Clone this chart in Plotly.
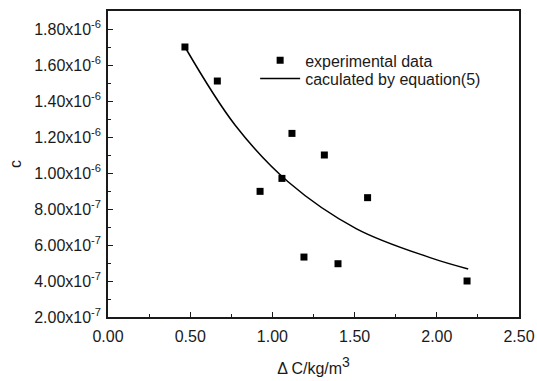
import plotly.graph_objects as go

# experimental data
exp_x = [0.468, 0.665, 0.925, 1.058, 1.119, 1.192, 1.316, 1.399, 1.579, 2.184]
exp_y = [1.70e-6, 1.511e-6, 0.898e-6, 0.97e-6, 1.22e-6, 0.533e-6, 1.10e-6, 0.496e-6, 0.863e-6, 0.40e-6]

# curve
fit_x = [0.468, 0.7725, 1.097, 1.512, 1.959, 2.191]
fit_y = [1.70e-6, 1.267e-6, 0.950e-6, 0.690e-6, 0.530e-6, 0.467e-6]

y_tickvals = [2e-7, 4e-7, 6e-7, 8e-7, 1.0e-6, 1.2e-6, 1.4e-6, 1.6e-6, 1.8e-6]
y_ticktext = ["2.00x10<sup>-7</sup>", "4.00x10<sup>-7</sup>", "6.00x10<sup>-7</sup>", "8.00x10<sup>-7</sup>",
              "1.00x10<sup>-6</sup>", "1.20x10<sup>-6</sup>", "1.40x10<sup>-6</sup>", "1.60x10<sup>-6</sup>",
              "1.80x10<sup>-6</sup>"]
x_tickvals = [0.0, 0.5, 1.0, 1.5, 2.0, 2.5]
x_ticktext = ["0.00", "0.50", "1.00", "1.50", "2.00", "2.50"]

font = "Liberation Sans, Arial, sans-serif"
ink = "#1a1a1a"

fig = go.Figure()
fig.add_trace(go.Scatter(x=exp_x, y=exp_y, mode="markers", name="experimental data",
                         marker=dict(symbol="square", size=7, color="black"),
                         legend="legend", showlegend=True))
fig.add_trace(go.Scatter(x=fit_x, y=fit_y, mode="lines", name="caculated by equation(5)",
                         line=dict(color="black", width=1.5, shape="spline", smoothing=1.0),
                         legend="legend2", showlegend=True))

axis_common = dict(showline=True, linecolor=ink, linewidth=1.5, mirror=True,
                   ticks="inside", ticklen=5, tickcolor=ink, tickwidth=1,
                   showgrid=False, zeroline=False, automargin=False,
                   tickfont=dict(family=font, size=16, color=ink))

fig.update_xaxes(range=[0, 2.5], tickvals=x_tickvals, ticktext=x_ticktext,
                 minor=dict(ticks="inside", ticklen=3, dtick=0.25, tick0=0, tickcolor=ink),
                 ticklabelstandoff=4,
                 title=dict(text="Δ C/kg/m<sup><span style='font-size:14px'>3</span></sup>",
                            font=dict(family=font, size=16, color=ink), standoff=19),
                 **axis_common)
fig.update_yaxes(range=[2e-7, 1.9e-6], tickvals=y_tickvals, ticktext=y_ticktext,
                 minor=dict(ticks="inside", ticklen=3, dtick=1e-7, tick0=0, tickcolor=ink),
                 ticklabelstandoff=2,
                 title=dict(text="c", font=dict(family=font, size=16, color=ink), standoff=9),
                 **axis_common)

leg_common = dict(xanchor="left", yanchor="top", bgcolor="rgba(0,0,0,0)",
                  font=dict(family=font, size=16, color=ink), itemwidth=40)
fig.update_layout(width=537, height=381, margin=dict(l=108, r=18, t=11, b=64),
                  paper_bgcolor="white", plot_bgcolor="white", showlegend=True,
                  font=dict(family=font, size=16, color=ink),
                  legend=dict(x=0.358, y=0.894, **leg_common),
                  legend2=dict(x=0.358, y=0.835, **leg_common))

fig.write_html("out.html")
